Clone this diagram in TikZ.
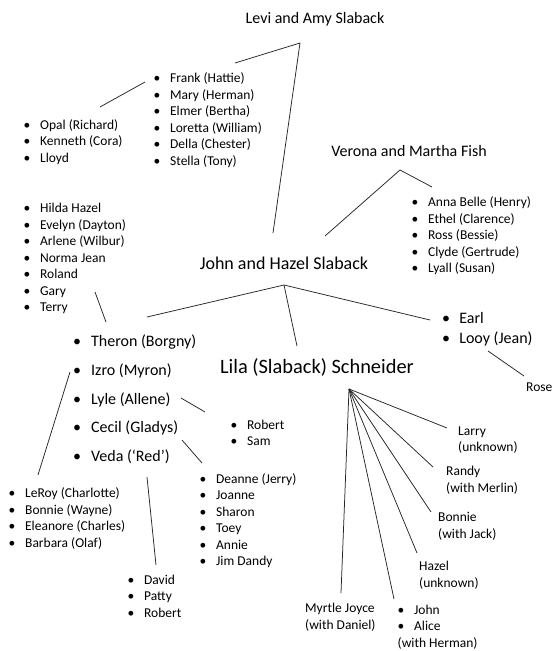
\documentclass[tikz,border=0pt]{standalone}
\usepackage{fontspec}
\setmainfont{Carlito}
\newcommand{\bi}[1][1.22em]{\makebox[#1][l]{•}}
\begin{document}
\begin{tikzpicture}[x=1pt,y=-1pt,
  sm/.style={font=\fontsize{13.5}{16.5}\selectfont, align=left, inner sep=0pt, anchor=west, yshift=-1.5pt},
  md/.style={font=\fontsize{16}{28.75}\selectfont, align=left, inner sep=0pt, anchor=west, yshift=-1pt},
  mdt/.style={font=\fontsize{16}{20.5}\selectfont, align=left, inner sep=0pt, anchor=west, yshift=-1pt},
  ttl/.style={font=\fontsize{16}{19}\selectfont, inner sep=0pt},
  hd/.style={font=\fontsize{18}{21}\selectfont, inner sep=0pt},
  hdb/.style={font=\fontsize{20.4}{24}\selectfont, inner sep=0pt},
  conn/.style={draw=black!85, line width=0.75pt}]
\fill[white] (0,0) rectangle (552,651);
\useasboundingbox (0,0) rectangle (552,651);

% titles
\node[ttl] (levi) at (315,19) {Levi and Amy Slaback};
\node[ttl] (verona) at (409,151) {Verona and Martha Fish};
\node[hd] (john) at (284,263) {John and Hazel Slaback};
\node[hdb] (lila) at (317,367) {Lila (Slaback) Schneider};

% lists
\node[sm] (frank) at (153.5,118.8) {\bi Frank (Hattie)\\\bi Mary (Herman)\\\bi Elmer (Bertha)\\\bi Loretta (William)\\\bi Della (Chester)\\\bi Stella (Tony)};
\node[sm] (opal) at (23.5,140.5) {\bi Opal (Richard)\\\bi Kenneth (Cora)\\\bi Lloyd};
\node[sm] (anna) at (411.5,234.5) {\bi Anna Belle (Henry)\\\bi Ethel (Clarence)\\\bi Ross (Bessie)\\\bi Clyde (Gertrude)\\\bi Lyall (Susan)};
\node[sm] (hilda) at (23.5,257) {\bi Hilda Hazel\\\bi Evelyn (Dayton)\\\bi Arlene (Wilbur)\\\bi Norma Jean\\\bi Roland\\\bi Gary\\\bi Terry};
\node[md] (theron) at (73,398.5) {\bi[1.125em]Theron (Borgny)\\\bi[1.125em]Izro (Myron)\\\bi[1.125em]Lyle (Allene)\\\bi[1.125em]Cecil (Gladys)\\\bi[1.125em]Veda (‘Red’)};
\node[mdt] (earl) at (442,328) {\bi[1.07em]Earl\\\bi[1.07em]Looy (Jean)};
\node[sm] (rose) at (526,386) {Rose};
\node[sm] (robert) at (230.5,431.5) {\bi Robert\\\bi Sam};
\node[sm] (deanne) at (199.5,519) {\bi Deanne (Jerry)\\\bi Joanne\\\bi Sharon\\\bi Toey\\\bi Annie\\\bi Jim Dandy};
\node[sm] (david) at (127.5,594.5) {\bi David\\\bi Patty\\\bi Robert};
\node[sm] (leroy) at (8.5,517) {\bi LeRoy (Charlotte)\\\bi Bonnie (Wayne)\\\bi Eleanore (Charles)\\\bi Barbara (Olaf)};
\node[sm] (larry) at (458,438.5) {Larry\\(unknown)};
\node[sm] (randy) at (446,478.5) {Randy\\(with Merlin)};
\node[sm] (bonnie) at (438,525) {Bonnie\\(with Jack)};
\node[sm] (hazel) at (419,573.5) {Hazel\\(unknown)};
\node[sm] (myrtle) at (305,615.5) {Myrtle Joyce\\(with Daniel)};
\node[sm] (johnalice) at (397.5,625.5) {\bi John\\\bi Alice\\(with Herman)};

% connector points
\coordinate (la) at (300,43);  \coordinate (la1) at (235,63);  \coordinate (la2) at (273,233);
\coordinate (op1) at (100,107); \coordinate (op2) at (145,82);
\coordinate (va) at (400,170); \coordinate (va1) at (432,187); \coordinate (va2) at (325,236);
\coordinate (gt1) at (95,292); \coordinate (gt2) at (106,322);
\coordinate (ja) at (284,285); \coordinate (ja1) at (147,317); \coordinate (ja2) at (297,346); \coordinate (ja3) at (430,320);
\coordinate (lr1) at (488,351); \coordinate (lr2) at (524,376);
\coordinate (iz1) at (70,372); \coordinate (iz2) at (38,475);
\coordinate (ly1) at (181,398); \coordinate (ly2) at (205,412);
\coordinate (ce1) at (182,440); \coordinate (ce2) at (202,463);
\coordinate (ve1) at (147,477); \coordinate (ve2) at (156,565);
\coordinate (fa) at (349,389);
\coordinate (f1) at (447,428); \coordinate (f2) at (433,467); \coordinate (f3) at (431,512);
\coordinate (f4) at (417,553); \coordinate (f5) at (394,599); \coordinate (f6) at (341,593);

% connectors
\draw[conn] (la1) -- (la) -- (la2);
\draw[conn] (op1) -- (op2);
\draw[conn] (va1) -- (va) -- (va2);
\draw[conn] (gt1) -- (gt2);
\draw[conn] (ja1) -- (ja) -- (ja3);
\draw[conn] (ja) -- (ja2);
\draw[conn] (lr1) -- (lr2);
\draw[conn] (iz1) -- (iz2);
\draw[conn] (ly1) -- (ly2);
\draw[conn] (ce1) -- (ce2);
\draw[conn] (ve1) -- (ve2);
\foreach \e in {f1,f2,f3,f4,f5,f6} \draw[conn] (fa) -- (\e);
\end{tikzpicture}
\end{document}
